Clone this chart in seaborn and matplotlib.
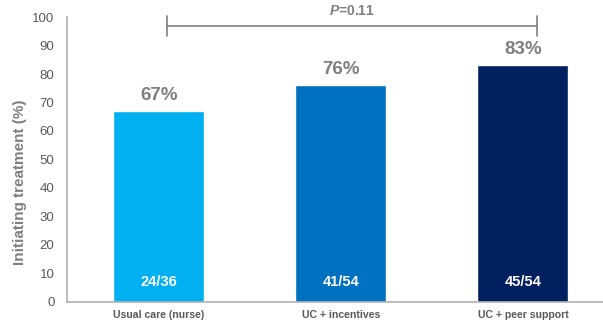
import matplotlib
matplotlib.use("Agg")
import matplotlib.pyplot as plt
import seaborn as sns
import pandas as pd

categories = ["Usual care (nurse)", "UC + incentives", "UC + peer support"]
values = [67, 76, 83]
fractions = ["24/36", "41/54", "45/54"]
pct_labels = ["67%", "76%", "83%"]
colors = ["#00B0F0", "#0070C0", "#002060"]
p_text = "=0.11"

sns.set_theme(style="white")
plt.rcParams['font.family'] = ['Liberation Sans', 'DejaVu Sans']
plt.rcParams['mathtext.fontset'] = 'custom'
plt.rcParams['mathtext.it'] = 'Liberation Sans:italic:bold'
plt.rcParams['mathtext.rm'] = 'Liberation Sans:bold'

df = pd.DataFrame({"cat": categories, "val": values})

fig = plt.figure(figsize=(6.03, 3.27), dpi=100)
ax = fig.add_axes([0.111, 0.0765, 0.889, 0.8715])
sns.barplot(data=df, x="cat", y="val", hue="cat", palette=colors, width=0.5,
            saturation=1, legend=False, ax=ax)

ax.set_ylim(0, 100)
ax.set_xlim(-0.505, 2.44)
ax.set_yticks(range(0, 101, 10))
ax.tick_params(axis='y', labelsize=9.5, colors="#595959", length=0, pad=9)
ax.tick_params(axis='x', labelsize=7.6, colors="#595959", length=0, pad=6)
for lab in ax.get_xticklabels():
    lab.set_fontweight("bold")
ax.set_xlabel("")
ax.set_ylabel("Initiating treatment (%)", fontsize=11, fontweight="bold",
              color="#7f7f7f")
ax.yaxis.set_label_coords(-0.075, 0.42)
for s in ["top", "right"]:
    ax.spines[s].set_visible(False)
for s in ["left", "bottom"]:
    ax.spines[s].set_color("#b0b0b0")
    ax.spines[s].set_linewidth(1.2)

for i, (v, f, p) in enumerate(zip(values, fractions, pct_labels)):
    ax.text(i, v + 2.6, p, ha="center", va="bottom", fontsize=13.5, fontweight="bold",
            color="#7f7f7f")
    ax.text(i, 4.6, f, ha="center", va="bottom", fontsize=10.5, fontweight="bold",
            color="white")

# significance bracket
x0, x1, yb = 0.044, 2.077, 96.8
ax.plot([x0, x1], [yb, yb], color="#7f7f7f", lw=1.2, clip_on=False)
ax.plot([x0, x0], [93.3, 100.5], color="#7f7f7f", lw=1.2, clip_on=False)
ax.plot([x1, x1], [93.3, 100.5], color="#7f7f7f", lw=1.2, clip_on=False)
ax.text((x0 + x1) / 2, 99.6, r"$P$" + p_text, ha="center", va="bottom",
        fontsize=10, fontweight="bold", color="#7f7f7f", clip_on=False)

fig.savefig("out.png", dpi=100)
